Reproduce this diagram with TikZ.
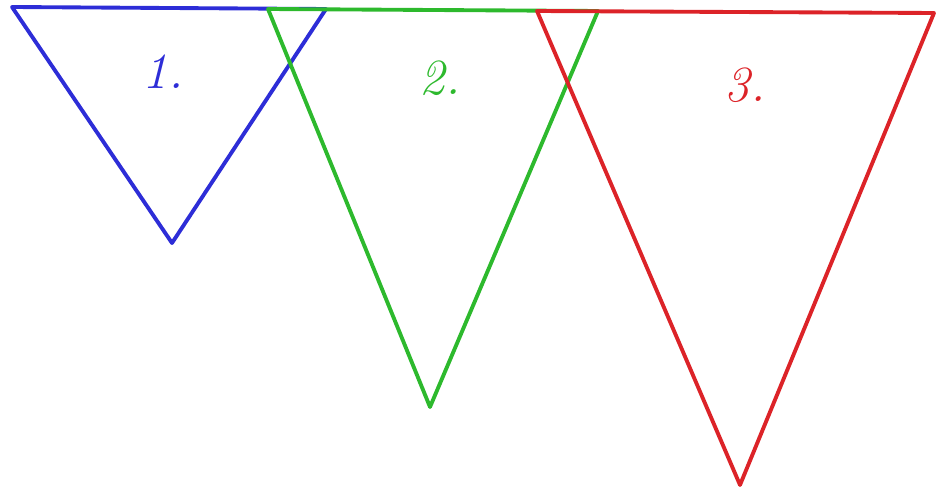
\documentclass[tikz,border=0pt]{standalone}
\usepackage{tikz}

\definecolor{penblue}{RGB}{45,45,215}
\definecolor{pengreen}{RGB}{45,185,45}
\definecolor{penred}{RGB}{220,35,40}

\tikzset{
    tri/.style={line width=1.1pt, line join=round},
    numlabel/.style={font=\Large\itshape}
}

\begin{document}
\begin{tikzpicture}[x=0.01cm,y=-0.01cm]

% Page frame (fixes margins)
\useasboundingbox (0,0) rectangle (945,491);

% Triangle 1 (blue)
\draw[tri, penblue] (12,7) -- (326,9) -- (172,243) -- cycle;
\node[numlabel, text=penblue] (one) at (163,72) {1.};

% Triangle 2 (green)
\draw[tri, pengreen] (268,9) -- (598,11) -- (430,407) -- cycle;
\node[numlabel, text=pengreen] (two) at (440,78) {2.};

% Triangle 3 (red)
\draw[tri, penred] (537,11) -- (934,13) -- (740,485) -- cycle;
\node[numlabel, text=penred] (three) at (745,85) {3.};

\end{tikzpicture}
\end{document}
